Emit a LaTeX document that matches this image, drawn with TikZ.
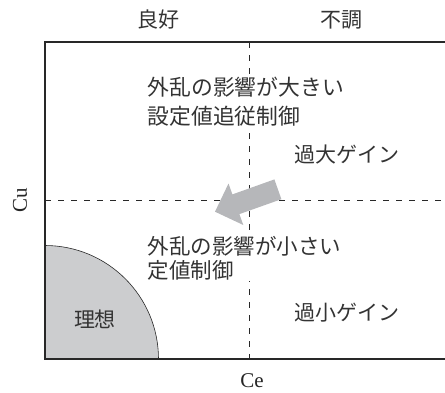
\documentclass[tikz,border=0pt]{standalone}
\usepackage{fontspec}
\newfontfamily\jpfont{Noto Sans CJK JP}
\newfontfamily\lafont{Liberation Serif}
\definecolor{framecol}{RGB}{40,40,40}
\definecolor{idealfill}{RGB}{204,205,207}
\definecolor{arrowfill}{RGB}{182,183,186}
\tikzset{
  jptext/.style={font=\jpfont\fontsize{21}{24}\selectfont, text=black!80, inner sep=1pt},
  jpblock/.style={jptext, fill=white, align=left, anchor=west},
  axislabel/.style={font=\lafont\fontsize{21}{24}\selectfont, text=black!85, inner sep=0pt},
  frameline/.style={line width=1.4pt, draw=framecol},
  divline/.style={line width=0.8pt, draw=framecol, dash pattern=on 6pt off 7pt},
}
\begin{document}
\begin{tikzpicture}[x=1pt,y=-1pt]
\useasboundingbox (0,0) rectangle (445,392);
% frame corners
\coordinate (tl) at (45,42);
\coordinate (bl) at (45,359);
\coordinate (tr) at (447,42);
\coordinate (br) at (447,359);
\coordinate (vtop) at (249,42);
\coordinate (vbot) at (249,359);
\coordinate (hl) at (45,200);
\coordinate (hr) at (447,200);
% ideal region
\filldraw[fill=idealfill, draw=framecol, line width=0.6pt] (bl) -- (45,245.5) arc[start angle=-90, end angle=0, radius=113.5] -- cycle;
% dividing lines
\draw[divline] (vtop) -- (vbot);
\draw[divline] (hl) -- (hr);
% texts
\node[jpblock, font=\jpfont\fontsize{21.8}{29}\selectfont] (big) at (146.5,102) {外乱の影響が大きい\\設定値追従制御};
\node[jpblock, font=\jpfont\fontsize{21.5}{23.5}\selectfont] (small) at (146.5,258.5) {外乱の影響が小さい\\定値制御};
\node[jptext, anchor=west] (over) at (293.5,155) {過大ゲイン};
\node[jptext, anchor=west] (under) at (293.5,313) {過小ゲイン};
\node[jptext] (ideal) at (95,319) {理想};
\node[jptext] (good) at (158,20) {良好};
\node[jptext] (bad) at (341,20) {不調};
\node[axislabel, rotate=90] (cu) at (20,200) {Cu};
\node[axislabel] (ce) at (252,381) {Ce};
% arrow
\fill[arrowfill] (274.4,179.4) -- (232.4,194.4) -- (228.5,183.5) -- (215.0,211.7) -- (243.3,225.0) -- (239.4,214.1) -- (281.4,199.2) -- cycle;
% frame
\draw[frameline] (tr) -- (tl) -- (bl) -- (br);
\end{tikzpicture}
\end{document}
